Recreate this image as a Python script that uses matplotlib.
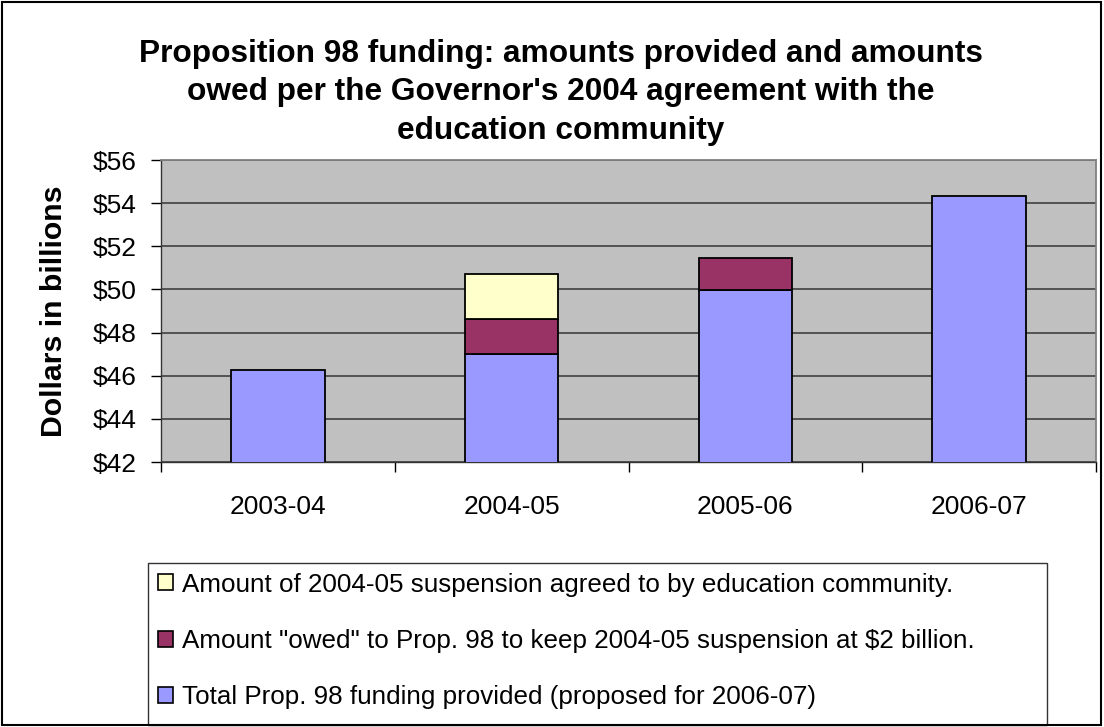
import matplotlib
matplotlib.use("Agg")
import matplotlib.pyplot as plt
from matplotlib.patches import Rectangle, Patch
import numpy as np

# ---- data ----
years = ["2003-04", "2004-05", "2005-06", "2006-07"]
provided = [46.25, 47.00, 49.96, 54.33]
owed = [0.0, 1.65, 1.50, 0.0]
suspension = [0.0, 2.05, 0.0, 0.0]
yticks = [42, 44, 46, 48, 50, 52, 54, 56]

labels = [
    "Amount of 2004-05 suspension agreed to by education community.",
    "Amount \"owed\" to Prop. 98 to keep 2004-05 suspension at $2 billion.",
    "Total Prop. 98 funding provided (proposed for 2006-07)",
]
title = ("Proposition 98 funding: amounts provided and amounts\n"
         "owed per the Governor's 2004 agreement with the\n"
         "education community")

c_blue = "#9999FF"
c_maroon = "#993366"
c_yellow = "#FFFFCC"

plt.rcParams["font.family"] = ["Liberation Sans", "DejaVu Sans"]

W, H = 1104, 727
fig = plt.figure(figsize=(W / 100, H / 100), dpi=100)
fig.patch.set_facecolor("white")

def fx(px):
    return px / W

def fy(py):
    return 1 - py / H

ax = fig.add_axes([fx(161), fy(462), fx(1096) - fx(161), fy(160) - fy(462)])
ax.set_facecolor("#C0C0C0")

x = np.arange(len(years))
bw = 0.40
edge = dict(edgecolor="black", linewidth=1.3, zorder=3)

ax.bar(x, provided, bw, color=c_blue, **edge)
bottom2 = np.array(provided)
idx = [i for i, v in enumerate(owed) if v > 0]
ax.bar(x[idx], np.array(owed)[idx], bw, bottom=bottom2[idx], color=c_maroon, **edge)
bottom3 = bottom2 + np.array(owed)
idx = [i for i, v in enumerate(suspension) if v > 0]
ax.bar(x[idx], np.array(suspension)[idx], bw, bottom=bottom3[idx], color=c_yellow, **edge)

ax.set_xlim(-0.5, len(years) - 0.5)
ax.set_ylim(42, 56)
ax.set_yticks(yticks)
ax.set_yticklabels([f"${v}" for v in yticks])
ax.yaxis.grid(True, color="#4a4a4a", linewidth=1.3, zorder=0)
ax.set_axisbelow(True)

# x axis: boundary ticks as major, labels on minor ticks
ax.set_xticks(np.arange(-0.5, len(years), 1.0))
ax.set_xticklabels([])
ax.set_xticks(x, minor=True)
ax.set_xticklabels(years, minor=True)
ax.tick_params(axis="x", which="major", length=7.5, width=1, color="black", direction="out")
ax.tick_params(axis="x", which="minor", length=0, pad=24, labelsize=19)
ax.tick_params(axis="y", which="major", length=7.5, width=1, color="black",
               direction="out", pad=10, labelsize=19)

for s in ["top", "right"]:
    ax.spines[s].set_color("#808080")
    ax.spines[s].set_linewidth(1.3)
for s in ["left", "bottom"]:
    ax.spines[s].set_color("#333333")
    ax.spines[s].set_linewidth(1.0)

# title and y label
fig.text(fx(561), fy(139), title, ha="center", va="baseline", fontsize=22.8,
         fontweight="bold", linespacing=1.38, multialignment="center")
fig.text(fx(54), fy(311), "Dollars in billions", rotation=90, ha="center",
         va="center", fontsize=21.8, fontweight="bold")

# legend box
fig.add_artist(Rectangle((fx(148), fy(725)), fx(1047) - fx(148), fy(563) - fy(725),
                         transform=fig.transFigure, facecolor="white",
                         edgecolor="#333333", linewidth=1.0))
handles = [Patch(facecolor=c_yellow, edgecolor="black", linewidth=1.2),
           Patch(facecolor=c_maroon, edgecolor="black", linewidth=1.2),
           Patch(facecolor=c_blue, edgecolor="black", linewidth=1.2)]
leg = fig.legend(handles, labels, loc="center left",
                 bbox_to_anchor=(fx(158), fy(641)), frameon=False,
                 fontsize=18.7, handlelength=0.58, handleheight=0.58,
                 handletextpad=0.36, labelspacing=1.25, borderpad=0,
                 borderaxespad=0)

# outer border
fig.add_artist(Rectangle((fx(2), fy(725)), fx(1101) - fx(2), fy(2) - fy(725),
                         transform=fig.transFigure, facecolor="none",
                         edgecolor="black", linewidth=1.5))

fig.savefig("out.png", dpi=100)
